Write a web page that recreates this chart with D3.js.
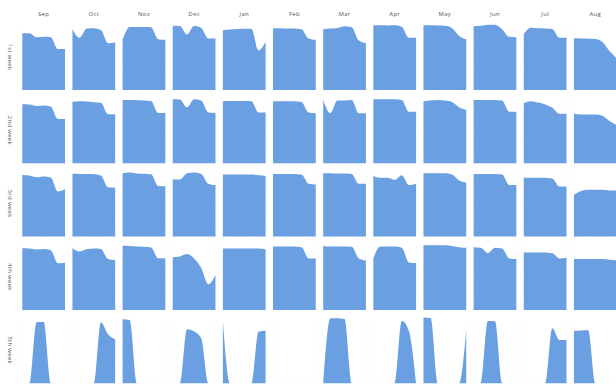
<!DOCTYPE html>
<html>
<head>
<meta charset="utf-8">
<script src="https://cdn.jsdelivr.net/npm/d3@7"></script>
<style>
  html, body { margin: 0; padding: 0; background: #fff; }
  svg { display: block; }
  text { font-family: "Open Sans", "DejaVu Sans", sans-serif; }
</style>
</head>
<body>
<svg id="chart" width="616" height="387"></svg>
<script>
// Months (columns) and week-of-month rows
const months = ["Sep", "Oct", "Nov", "Dec", "Jan", "Feb", "Mar", "Apr", "May", "Jun", "Jul", "Aug"];
const weeks = ["1st week", "2nd week", "3rd week", "4th week", "5th week"];
const weekdays = [0, 1, 2, 3, 4, 5, 6];

// Daily values (one entry per weekday) for each month, per week of the month
const week1 = [
  [86, 86, 80, 80.5, 80, 62, 62],
  [92, 79, 93, 93.5, 91, 71, 72],
  [76, 95.5, 95.5, 95.5, 95, 77, 76],
  [97.5, 97, 84, 97, 94, 78, 78],
  [90.5, 91.7, 92.4, 92.7, 92.9, 60, 72.7],
  [93.5, 93.5, 93, 93, 92, 78, 76],
  [92, 93, 94, 96.5, 95, 75, 71],
  [98, 98, 97.7, 98, 96, 79, 79],
  [98, 98, 97.7, 97.5, 94, 82, 77],
  [96.5, 97.3, 98.8, 99, 92, 80.5, 80],
  [85, 94.4, 93.5, 93.2, 92.4, 79, 79],
  [78.3, 78, 77.7, 77.3, 72.7, 59, 47.7]
];
const week2 = [
  [89.4, 89, 86.8, 87.6, 86, 67, 67],
  [93.3, 94, 93.6, 92.6, 91.7, 74.2, 74.2],
  [96, 96, 95.6, 95.2, 94.4, 76.2, 76.7],
  [97, 96.7, 84.8, 97, 95, 77, 76.2],
  [94, 94.5, 94.5, 94.5, 94, 77, 77],
  [94, 94, 94, 94, 93, 77, 76],
  [96, 76, 95, 95, 96, 76, 76],
  [97, 97, 97, 97, 96, 78, 78],
  [94, 95, 96, 95, 93, 85, 81],
  [96, 96, 96, 96, 95, 78, 78],
  [91, 94, 92, 89, 84, 75, 75],
  [75, 74, 74, 74, 72, 64, 58]
];
const week3 = [
  [93.3, 92.6, 89.8, 91, 89.5, 68.3, 72],
  [95.3, 95, 94.8, 94.4, 92.6, 74.7, 74],
  [95.9, 97, 95.6, 95.2, 94.4, 76.7, 76.2],
  [87, 86.5, 96, 97, 95, 80, 78],
  [94, 94, 94, 94, 94, 93, 92],
  [95, 95, 95, 95, 94, 80, 79],
  [96, 96, 95.5, 95.5, 95, 80, 80],
  [92, 89, 89, 86, 93, 78, 80],
  [96, 96, 96, 96, 94, 85, 82],
  [95, 95, 95, 95, 94, 78, 78],
  [89, 89, 89, 89, 88, 76, 76],
  [63, 69, 71, 71, 71, 70, 70]
];
const week4 = [
  [93.3, 93, 91.5, 92.3, 90.3, 70.6, 71.5],
  [93.3, 88.5, 91.8, 93, 92.3, 77, 75.6],
  [97.3, 97, 96, 95.8, 94.5, 78.2, 78.2],
  [79.7, 81, 84.7, 78, 63.5, 39, 53],
  [93, 93, 93, 93, 93, 93, 92],
  [96, 96, 96, 96, 95, 78, 78],
  [97, 96, 96, 96, 95.5, 78, 75],
  [78, 96, 96, 96, 94, 72, 71],
  [98, 98, 98, 98, 97, 95, 94],
  [95, 94, 86, 94, 93, 78, 77],
  [87, 87, 87, 87, 86, 78, 79],
  [77, 77, 77, 77, 77, 76, 75]
];
// Fifth week: only days 29-31 exist, other weekdays are 0
const week5 = [
  [0, 0, 92.3, 93.2, 0, 0, 0],
  [0, 0, 0, 0, 92.3, 74, 66.5],
  [96.8, 95.8, 0, 0, 0, 0, 0],
  [0, 0, 81.7, 78.5, 68, 0, 0],
  [93.2, 0, 0, 0, 0, 78, 79.5],
  [0, 0, 0, 0, 0, 0, 0],
  [0, 98, 98.3, 97.3, 0, 0, 0],
  [0, 0, 0, 0, 94.7, 79, 0],
  [99.5, 98.8, 0, 0, 0, 0, 80],
  [0, 0, 94.2, 93.8, 0, 0, 0],
  [0, 0, 0, 0, 83.2, 65.5, 65.5],
  [79.5, 80, 80.2, 0, 0, 0, 0]
];
const weekValues = [week1, week2, week3, week4, week5];

const svg = d3.select("#chart");

// Facet layout
const col = d3.scaleBand().domain(months).range([22.3, 616.65]).paddingInner(0.1486).paddingOuter(0);
const row = d3.scaleBand().domain(weeks).range([24, 383.2]).paddingInner(0.0996).paddingOuter(0);

const x = d3.scaleLinear().domain([0, 6]).range([0, col.bandwidth()]);
const y = d3.scaleLinear().domain([0, 100]).range([row.bandwidth(), 0]);

const area = d3.area()
  .x((d, i) => x(weekdays[i]))
  .y0(y(0))
  .y1(d => y(d))
  .curve(d3.curveMonotoneX);

// Month headers
svg.append("g").selectAll("text")
  .data(months)
  .join("text")
  .attr("x", d => col(d) + col.bandwidth() / 2)
  .attr("y", 15.6)
  .attr("text-anchor", "middle")
  .attr("font-size", 6)
  .attr("letter-spacing", 0.3)
  .attr("fill", "#555")
  .text(d => d);

// Week labels
svg.append("g").selectAll("text")
  .data(weeks)
  .join("text")
  .attr("transform", d => `translate(8.3, ${row(d) + row.bandwidth() / 2}) rotate(90)`)
  .attr("text-anchor", "middle")
  .attr("font-size", 6)
  .attr("letter-spacing", 0.3)
  .attr("fill", "#555")
  .text(d => d);

// Cells
weeks.forEach((w, wi) => {
  months.forEach((m, mi) => {
    const g = svg.append("g")
      .attr("transform", `translate(${col(m)}, ${row(w)})`);

    // faint dotted frame
    g.append("path")
      .attr("d", `M0,0V${row.bandwidth()}H${col.bandwidth()}V0`)
      .attr("fill", "none")
      .attr("stroke", "#eeeeee")
      .attr("stroke-width", 0.6)
      .attr("stroke-dasharray", "1,2");

    g.append("path")
      .datum(weekValues[wi][mi])
      .attr("d", area)
      .attr("fill", "#6a9fe1");
  });
});
</script>
</body>
</html>
